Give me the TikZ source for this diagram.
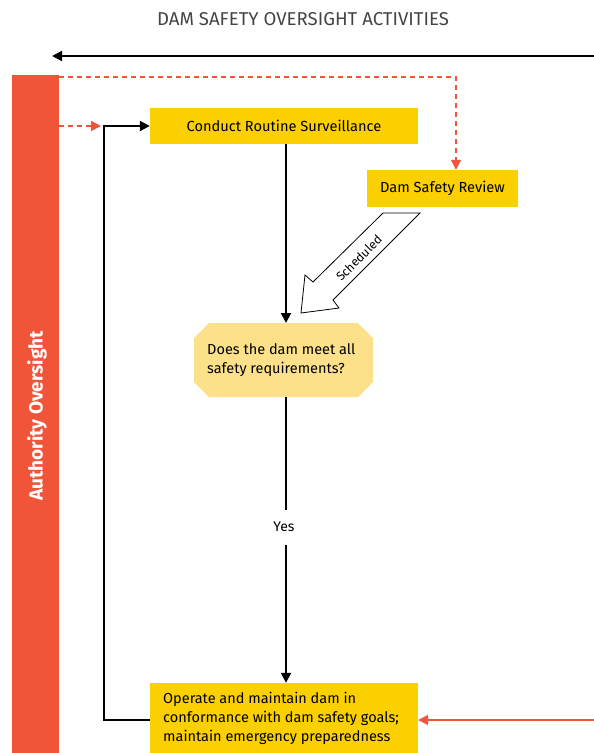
\documentclass[tikz,border=0pt]{standalone}
\usepackage{fontspec}
\setmainfont{Fira Sans}
\usetikzlibrary{arrows.meta}
\definecolor{gold}{HTML}{FBD000}
\definecolor{lightgold}{HTML}{FCE08A}
\definecolor{redor}{HTML}{F0553A}
\definecolor{titlegray}{HTML}{444444}
\tikzset{
  box/.style={fill=gold, inner sep=0pt, font=\fontsize{14.6}{18}\selectfont},
  flow/.style={line width=2pt, -{Triangle[length=10pt,width=10pt]}},
  dflow/.style={line width=1.6pt, redor, dashed, dash pattern=on 5pt off 4pt, -{Triangle[length=10pt,width=10pt]}},
  oflow/.style={line width=1.6pt, redor, -{Triangle[length=10pt,width=10pt]}},
}
\begin{document}
\begin{tikzpicture}[x=1pt,y=-1pt]
\useasboundingbox (0,0) rectangle (594,753);
% title
\node[titlegray, font=\fontsize{18.6}{20}\selectfont] (title) at (303,19) {DAM SAFETY OVERSIGHT ACTIVITIES};
\coordinate (topR) at (594,56);
\coordinate (topL) at (52,56);
\draw[flow] (topR) -- (topL);
% authority bar
\fill[redor] (12,75) rectangle (59,753);
\node[white, rotate=90, font=\bfseries\fontsize{19}{20}\selectfont] (auth) at (37,416) {Authority Oversight};
% boxes
\node[box, minimum width=268pt, minimum height=36pt] (crs) at (284,126) {Conduct Routine Surveillance};
\node[box, minimum width=151pt, minimum height=37pt] (dsr) at (442.5,188.5) {Dam Safety Review};
\node[box, minimum width=268pt, minimum height=70pt] (op) at (284,718) {};
\node[align=left, anchor=west, inner sep=0pt, font=\fontsize{14.5}{19}\selectfont] (optxt) at (163,718)
  {Operate and maintain dam in\\conformance with dam safety goals;\\maintain emergency preparedness};
% decision octagon
\fill[lightgold] (209,323) -- (358,323) -- (373,338) -- (373,382) -- (358,397) -- (209,397) -- (194,382) -- (194,338) -- cycle;
\node[align=left, inner sep=0pt, font=\fontsize{14.5}{19}\selectfont, anchor=west] (dec) at (207,360) {Does the dam meet all\\safety requirements?};
\coordinate (decT) at (286,323);
\coordinate (decB) at (286,397);
% dashed orange
\coordinate (d0) at (59,77);
\coordinate (d1) at (456,77);
\draw[dflow] (d0) -- (d1) -- (dsr.north -| d1);
\coordinate (e0) at (59,126);
\coordinate (e1) at (101,126);
\draw[dflow] (e0) -- (e1);
% black loop
\coordinate (lp1) at (104,720);
\coordinate (lp2) at (104,126);
\draw[flow] (op.west |- lp1) -- (lp1) -- (lp2) -- (crs.west);
% down arrow
\draw[flow] (crs.south -| decT) -- (decT);
% yes
\node[font=\fontsize{14}{16}\selectfont] (yes) at (284,527) {Yes};
\coordinate (y1) at (286,510);
\coordinate (y2) at (286,545);
\draw[line width=2pt] (decB) -- (y1);
\draw[flow] (y2) -- (op.north -| decT);
% orange bottom
\coordinate (oR) at (594,720);
\draw[oflow] (oR) -- (op.east |- oR);
% scheduled block arrow
\draw[fill=white, line width=0.8pt, line join=miter] (383,213) -- (420,213) -- (333,300) -- (339,308) -- (301,313) -- (305,275) -- (313,282) -- cycle;
\node[rotate=45, inner sep=0pt, font=\fontsize{12.3}{13}\selectfont] (sched) at (359,258) {Scheduled};
\end{tikzpicture}
\end{document}
